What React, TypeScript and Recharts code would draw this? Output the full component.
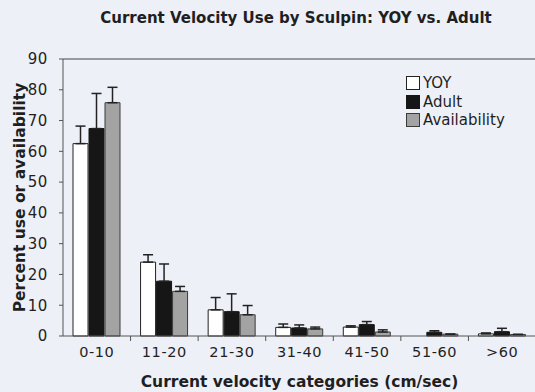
import React from 'react';
import { BarChart, Bar, XAxis, YAxis, ErrorBar, ReferenceLine, Legend, Label } from 'recharts';

// Velocity categories (cm/sec)
const categories = ['0-10', '11-20', '21-30', '31-40', '41-50', '51-60', '>60'];

// Percent use / availability per category, with upper error (SE) values
const yoyValues = [62.5, 24.0, 8.5, 2.8, 2.9, 0, 0.7];
const yoyErrors = [5.7, 2.4, 4.0, 1.1, 0.4, 0, 0.3];
const adultValues = [67.4, 17.8, 7.9, 2.6, 3.7, 1.2, 1.4];
const adultErrors = [11.4, 5.6, 5.8, 1.0, 1.0, 0.5, 1.1];
const availValues = [75.8, 14.5, 6.9, 2.3, 1.3, 0.6, 0.5];
const availErrors = [5.0, 1.6, 3.0, 0.6, 0.7, 0, 0];

const yTicks = [0, 10, 20, 30, 40, 50, 60, 70, 80, 90];

const series = [
  { key: 'yoy', name: 'YOY', fill: '#ffffff', stroke: '#222222' },
  { key: 'adult', name: 'Adult', fill: '#161616', stroke: '#161616' },
  { key: 'avail', name: 'Availability', fill: '#a3a3a3', stroke: '#3a3a3a' },
];

const data = categories.map((c, i) => ({
  category: c,
  yoy: yoyValues[i],
  yoyErr: [0, yoyErrors[i]],
  adult: adultValues[i],
  adultErr: [0, adultErrors[i]],
  avail: availValues[i],
  availErr: [0, availErrors[i]],
}));

const BG = '#eef0f7';
const INK = '#1f1f1f';
const FONT = '"DejaVu Sans", Verdana, sans-serif';

// Category label centred in the band, with a tick mark on the band's right edge
const CategoryTick = (props: any) => {
  const { x, y, payload, index, visibleTicksCount } = props;
  const half = payload.offset ?? 0;
  const last = index === (visibleTicksCount ?? categories.length) - 1;
  return (
    <g>
      {!last && (
        <line x1={x + half} x2={x + half} y1={y} y2={y + 5} stroke="#555" strokeWidth={1} />
      )}
      <text
        x={x}
        y={y + 21}
        textAnchor="middle"
        fontSize={14.5}
        letterSpacing={0.6}
        fill={INK}
        fontFamily={FONT}
      >
        {payload.value}
      </text>
    </g>
  );
};

const LegendBox = () => (
  <div style={{ fontFamily: FONT, fontSize: 15, color: INK, lineHeight: '18.5px' }}>
    {series.map((s) => (
      <div key={s.key} style={{ display: 'flex', alignItems: 'center', height: 18.5 }}>
        <span
          style={{
            display: 'inline-block',
            width: 12,
            height: 12,
            background: s.fill,
            border: `1px solid ${s.stroke}`,
            marginRight: 3,
          }}
        />
        <span>{s.name}</span>
      </div>
    ))}
  </div>
);

export default function App() {
  return (
    <div
      style={{
        position: 'fixed',
        left: 0,
        top: 0,
        width: 535,
        height: 392,
        background: BG,
        overflow: 'hidden',
      }}
    >
      <div
        style={{
          position: 'absolute',
          left: 0,
          top: 9,
          width: 592,
          textAlign: 'center',
          fontFamily: FONT,
          fontWeight: 'bold',
          fontSize: 15,
          color: INK,
        }}
      >
        Current Velocity Use by Sculpin: YOY vs. Adult
      </div>
      <BarChart
        width={540}
        height={392}
        data={data}
        margin={{ top: 59, right: 4, bottom: 0, left: 0 }}
        barSize={15}
        barGap={1}
        style={{ position: 'absolute', left: 0, top: 0 }}
      >
        <XAxis
          dataKey="category"
          height={56}
          tickLine={false}
          tickSize={0}
          tickMargin={0}
          axisLine={{ stroke: '#555', strokeWidth: 1 }}
          tick={<CategoryTick />}
          interval={0}
        >
          <Label
            content={(p: any) => {
              const vb = p.viewBox;
              return (
                <text
                  x={vb.x + vb.width / 2}
                  y={vb.y + 51}
                  textAnchor="middle"
                  fontFamily={FONT}
                  fontWeight="bold"
                  fontSize={15.5}
                  fill={INK}
                >
                  Current velocity categories (cm/sec)
                </text>
              );
            }}
          />
        </XAxis>
        <YAxis
          width={63}
          domain={[0, 90]}
          ticks={yTicks}
          interval={0}
          tickSize={4}
          tickMargin={11}
          tickLine={{ stroke: '#555' }}
          axisLine={{ stroke: '#555', strokeWidth: 1 }}
          tick={{ fontSize: 15, fill: INK, fontFamily: FONT, letterSpacing: 0.6 }}
        >
          <Label
            content={(p: any) => {
              const vb = p.viewBox;
              const cx = vb.x + 20;
              const cy = vb.y + vb.height / 2;
              return (
                <text
                  x={cx}
                  y={cy}
                  transform={`rotate(-90 ${cx} ${cy})`}
                  textAnchor="middle"
                  dominantBaseline="central"
                  fontFamily={FONT}
                  fontWeight="bold"
                  fontSize={15.5}
                  fill={INK}
                >
                  Percent use or availability
                </text>
              );
            }}
          />
        </YAxis>
        <ReferenceLine y={90} stroke="#444" strokeWidth={1} ifOverflow="extendDomain" />
        <Legend
          content={<LegendBox />}
          layout="vertical"
          verticalAlign="middle"
          align="center"
          wrapperStyle={{ top: 74, left: 406, width: 'auto', height: 'auto' }}
        />
        {series.map((s) => (
          <Bar
            key={s.key}
            dataKey={s.key}
            name={s.name}
            fill={s.fill}
            stroke={s.stroke}
            strokeWidth={1}
            isAnimationActive={false}
          >
            <ErrorBar
              dataKey={`${s.key}Err`}
              width={5}
              stroke="#222"
              strokeWidth={1.5}
              direction="y"
              isAnimationActive={false}
            />
          </Bar>
        ))}
      </BarChart>
    </div>
  );
}
